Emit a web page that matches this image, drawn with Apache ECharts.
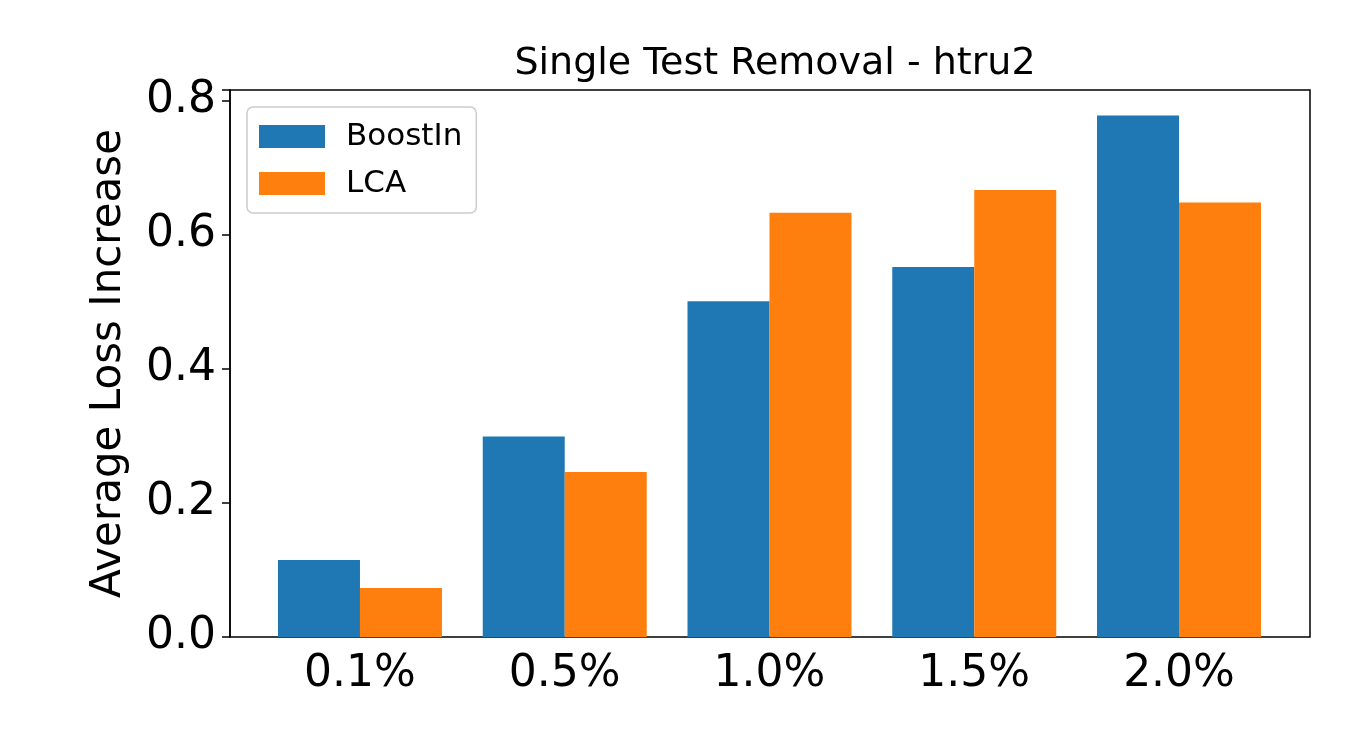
<!DOCTYPE html>
<html>
<head>
<meta charset="utf-8">
<script src="https://cdn.jsdelivr.net/npm/echarts@6/dist/echarts.min.js"></script>
<style>html,body{margin:0;background:#fff}#c{width:1350px;height:750px}</style>
</head>
<body>
<div id="c"></div>
<script>
var categories = ['0.1%', '0.5%', '1.0%', '1.5%', '2.0%'];
var boostIn = [0.115, 0.299, 0.501, 0.552, 0.778];
var lca = [0.073, 0.246, 0.633, 0.667, 0.648];
var font = "'DejaVu Sans', sans-serif";
var yMax = 0.816;

var chart = echarts.init(document.getElementById('c'));
chart.setOption({
  animation: false,
  title: {
    text: 'Single Test Removal - htru2', left: 770, top: 40, textAlign: 'center',
    textStyle: { fontFamily: font, fontSize: 38, fontWeight: 'normal', color: '#000' }
  },
  legend: {
    left: 247, top: 107, orient: 'vertical', itemWidth: 66, itemHeight: 23, itemGap: 16, icon: 'rect',
    padding: [14, 14, 14, 12], borderColor: '#ccc', borderWidth: 1.5, borderRadius: 6,
    textStyle: { fontFamily: font, fontSize: 31, color: '#000', padding: [0, 0, 0, 16] },
    data: ['BoostIn', 'LCA']
  },
  grid: [
    { left: 230, right: 40, top: 90, bottom: 113, show: true, borderColor: '#000', borderWidth: 1.5 },
    { left: 257.6, right: 68.6, top: 90, bottom: 113 }
  ],
  xAxis: [
    { type: 'value', gridIndex: 0, min: 0, max: 1, show: false },
    {
      type: 'category', gridIndex: 1, data: categories,
      axisLine: { show: false },
      axisTick: { alignWithLabel: true, length: 8, lineStyle: { color: '#000', width: 1.5 } },
      axisLabel: { fontFamily: font, fontSize: 44, color: '#000', margin: 16 }
    }
  ],
  yAxis: [
    {
      type: 'value', gridIndex: 0, min: 0, max: yMax, interval: 0.2,
      name: 'Average Loss Increase', nameLocation: 'middle', nameGap: 100,
      nameTextStyle: { fontFamily: font, fontSize: 42, color: '#000' },
      splitLine: { show: false },
      axisLine: { show: true, lineStyle: { color: '#000', width: 1.5 } },
      axisTick: { show: true, length: 8, lineStyle: { color: '#000', width: 1.5 } },
      axisLabel: {
        fontFamily: font, fontSize: 44, color: '#000', margin: 14,
        formatter: function (v) {
          var r = Math.round(v * 10) / 10;
          return Math.abs(v - r) < 1e-6 ? r.toFixed(1) : '';
        }
      }
    },
    { type: 'value', gridIndex: 1, min: 0, max: yMax, show: false, splitLine: { show: false } }
  ],
  series: [
    { name: 'BoostIn', type: 'bar', xAxisIndex: 1, yAxisIndex: 1, data: boostIn, barWidth: 82, barGap: '0%', itemStyle: { color: '#1f77b4' } },
    { name: 'LCA', type: 'bar', xAxisIndex: 1, yAxisIndex: 1, data: lca, barWidth: 82, barGap: '0%', itemStyle: { color: '#ff7f0e' } }
  ]
});
</script>
</body>
</html>
